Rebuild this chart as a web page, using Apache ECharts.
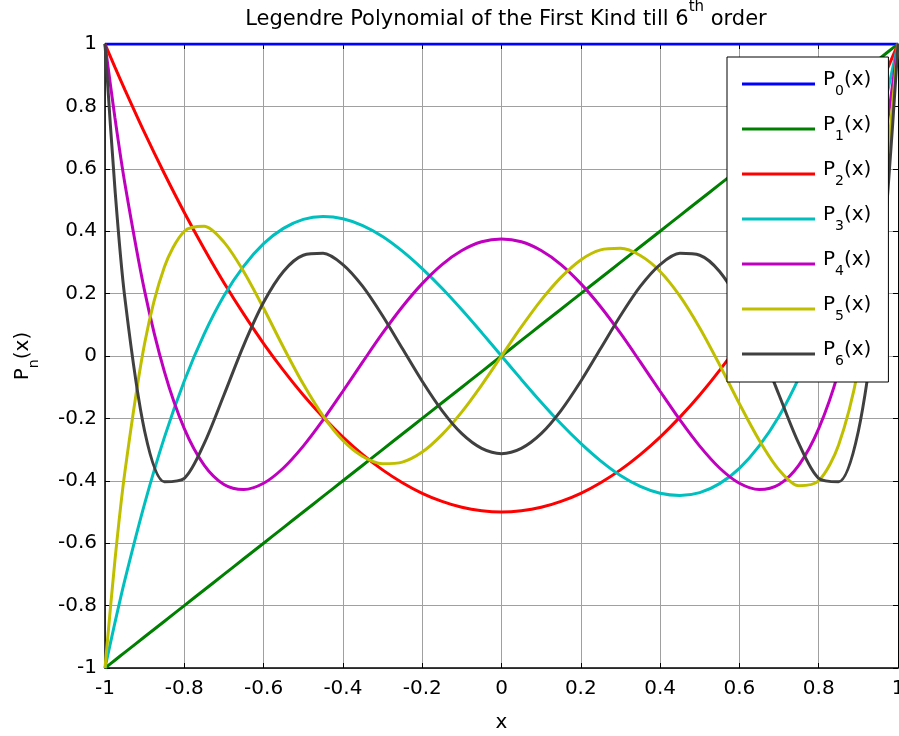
<!DOCTYPE html>
<html>
<head>
<meta charset="utf-8">
<script src="https://cdn.jsdelivr.net/npm/echarts@6/dist/echarts.min.js"></script>
<style>
  html, body { margin: 0; padding: 0; background: #fff; }
  #chart { width: 899px; height: 736px; }
</style>
</head>
<body>
<div id="chart"></div>
<script>
// Sample points along x
const xs = [-1, -0.975, -0.95, -0.9, -0.85, -0.8, -0.75, -0.7, -0.65, -0.6, -0.55, -0.5, -0.45, -0.4, -0.35, -0.3, -0.25, -0.2, -0.15, -0.1, -0.05,
  0, 0.05, 0.1, 0.15, 0.2, 0.25, 0.3, 0.35, 0.4, 0.45, 0.5, 0.55, 0.6, 0.65, 0.7, 0.75, 0.8, 0.85, 0.9, 0.95, 0.975, 1];

// Legendre polynomial values at each x
const p0 = [1, 1, 1, 1, 1, 1, 1, 1, 1, 1, 1, 1, 1, 1, 1, 1, 1, 1, 1, 1, 1,
  1, 1, 1, 1, 1, 1, 1, 1, 1, 1, 1, 1, 1, 1, 1, 1, 1, 1, 1, 1, 1, 1];
const p1 = [-1, -0.975, -0.95, -0.9, -0.85, -0.8, -0.75, -0.7, -0.65, -0.6, -0.55, -0.5, -0.45, -0.4, -0.35, -0.3, -0.25, -0.2, -0.15, -0.1, -0.05,
  0, 0.05, 0.1, 0.15, 0.2, 0.25, 0.3, 0.35, 0.4, 0.45, 0.5, 0.55, 0.6, 0.65, 0.7, 0.75, 0.8, 0.85, 0.9, 0.95, 0.975, 1];
const p2 = [1, 0.926, 0.854, 0.715, 0.584, 0.46, 0.344, 0.235, 0.134, 0.04, -0.046, -0.125, -0.196, -0.26, -0.316, -0.365, -0.406, -0.44, -0.466, -0.485, -0.496,
  -0.5, -0.496, -0.485, -0.466, -0.44, -0.406, -0.365, -0.316, -0.26, -0.196, -0.125, -0.046, 0.04, 0.134, 0.235, 0.344, 0.46, 0.584, 0.715, 0.854, 0.926, 1];
const p3 = [-1, -0.855, -0.718, -0.473, -0.26, -0.08, 0.07, 0.193, 0.288, 0.36, 0.409, 0.438, 0.447, 0.44, 0.418, 0.383, 0.336, 0.28, 0.217, 0.148, 0.075,
  0, -0.075, -0.148, -0.217, -0.28, -0.336, -0.383, -0.418, -0.44, -0.447, -0.438, -0.409, -0.36, -0.288, -0.193, -0.07, 0.08, 0.26, 0.473, 0.718, 0.855, 1];
const p4 = [1, 0.764, 0.554, 0.208, -0.051, -0.233, -0.35, -0.412, -0.428, -0.408, -0.359, -0.289, -0.205, -0.113, -0.019, 0.073, 0.158, 0.232, 0.293, 0.338, 0.366,
  0.375, 0.366, 0.338, 0.293, 0.232, 0.158, 0.073, -0.019, -0.113, -0.205, -0.289, -0.359, -0.408, -0.428, -0.412, -0.35, -0.233, -0.051, 0.208, 0.554, 0.764, 1];
const p5 = [-1, -0.656, -0.373, 0.041, 0.286, 0.4, 0.416, 0.365, 0.27, 0.153, 0.028, -0.09, -0.192, -0.271, -0.322, -0.345, -0.34, -0.308, -0.252, -0.179, -0.093,
  0, 0.093, 0.179, 0.252, 0.308, 0.34, 0.345, 0.322, 0.271, 0.192, 0.09, -0.028, -0.153, -0.27, -0.365, -0.416, -0.4, -0.286, -0.041, 0.373, 0.656, 1];
const p6 = [1, 0.537, 0.187, -0.241, -0.403, -0.392, -0.281, -0.125, 0.035, 0.172, 0.271, 0.323, 0.329, 0.293, 0.223, 0.129, 0.024, -0.081, -0.175, -0.249, -0.296,
  -0.313, -0.296, -0.249, -0.175, -0.081, 0.024, 0.129, 0.223, 0.293, 0.329, 0.323, 0.271, 0.172, 0.035, -0.125, -0.281, -0.392, -0.403, -0.241, 0.187, 0.537, 1];

const seriesNames = ['P0(x)', 'P1(x)', 'P2(x)', 'P3(x)', 'P4(x)', 'P5(x)', 'P6(x)'];
const seriesValues = [p0, p1, p2, p3, p4, p5, p6];
const seriesColors = ['#0000ff', '#008000', '#ff0000', '#00bfbf', '#bf00bf', '#bfbf00', '#404040'];

const FONT = 'DejaVu Sans';
const fmtTick = v => String(Math.round(v * 10) / 10);

const chart = echarts.init(document.getElementById('chart'), null, { renderer: 'canvas' });

// Box around the plot: top and right axes with inward ticks and no labels
const frameAxis = {
  type: 'value', min: -1, max: 1, interval: 0.2,
  axisLine: { show: true, onZero: false, lineStyle: { color: '#000', width: 1 } },
  axisTick: { show: true, inside: true, length: 5, lineStyle: { color: '#000' } },
  axisLabel: { show: false },
  splitLine: { show: false }
};

const subRich = {
  a: { fontFamily: FONT, fontSize: 20, fontWeight: 'normal', color: '#000', lineHeight: 28, verticalAlign: 'top' },
  s: { fontFamily: FONT, fontSize: 14, fontWeight: 'normal', color: '#000', lineHeight: 16, verticalAlign: 'bottom' }
};

const option = {
  animation: false,
  backgroundColor: '#fff',
  title: {
    text: '{t|Legendre Polynomial of the First Kind till 6}{u|th}{t| order}',
    left: 501, textAlign: 'center', top: -5,
    textStyle: {
      fontWeight: 'normal',
      rich: {
        t: { fontFamily: FONT, fontSize: 21, fontWeight: 'normal', color: '#000', lineHeight: 30, verticalAlign: 'bottom' },
        u: { fontFamily: FONT, fontSize: 15, fontWeight: 'normal', color: '#000', lineHeight: 16, verticalAlign: 'top' }
      }
    }
  },
  grid: { left: 105, right: 1, top: 44, bottom: 68, containLabel: false, outerBoundsMode: 'none' },
  xAxis: [
    {
      type: 'value', min: -1, max: 1, interval: 0.2, position: 'bottom',
      name: 'x', nameLocation: 'middle', nameGap: 45,
      nameTextStyle: { fontFamily: FONT, fontSize: 20, color: '#000' },
      axisLine: { show: true, onZero: false, lineStyle: { color: '#000', width: 1.5 } },
      axisTick: { show: true, inside: true, length: 5, lineStyle: { color: '#000' } },
      axisLabel: { fontFamily: FONT, fontSize: 20, color: '#000', margin: 11, formatter: fmtTick, showMinLabel: true, showMaxLabel: true, hideOverlap: false },
      splitLine: { show: true, lineStyle: { color: '#a0a0a0', width: 1 } }
    },
    Object.assign({}, frameAxis, { position: 'top' })
  ],
  yAxis: [
    {
      type: 'value', min: -1, max: 1, interval: 0.2, position: 'left',
      name: '{a|P}{s|n}{a|(x)}', nameLocation: 'middle', nameGap: 64, nameRotate: 90,
      nameTextStyle: { rich: subRich },
      axisLine: { show: true, onZero: false, lineStyle: { color: '#000', width: 1.5 } },
      axisTick: { show: true, inside: true, length: 5, lineStyle: { color: '#000' } },
      axisLabel: { fontFamily: FONT, fontSize: 20, color: '#000', margin: 8, formatter: fmtTick },
      splitLine: { show: true, lineStyle: { color: '#a0a0a0', width: 1 } }
    },
    Object.assign({}, frameAxis, { position: 'right' })
  ],
  legend: {
    orient: 'vertical',
    left: 727, top: 57,
    padding: [13, 17, 14, 15],
    itemGap: 17,
    itemWidth: 73, itemHeight: 3,
    icon: 'rect',
    backgroundColor: '#fff',
    borderColor: '#000', borderWidth: 1, borderRadius: 0,
    z: 10,
    data: seriesNames,
    formatter: name => '{a|P}{s|' + name.charAt(1) + '}{a|(x)}',
    textStyle: { padding: [0, 0, 0, 3], rich: subRich }
  },
  series: seriesNames.map((name, i) => ({
    name: name,
    type: 'line',
    xAxisIndex: 0, yAxisIndex: 0,
    data: xs.map((x, k) => [x, seriesValues[i][k]]),
    showSymbol: false, symbol: 'none',
    smooth: 0.3,
    clip: true,
    lineStyle: { color: seriesColors[i], width: 3 },
    itemStyle: { color: seriesColors[i] },
    z: 3 + i
  }))
};

chart.setOption(option);
</script>
</body>
</html>
